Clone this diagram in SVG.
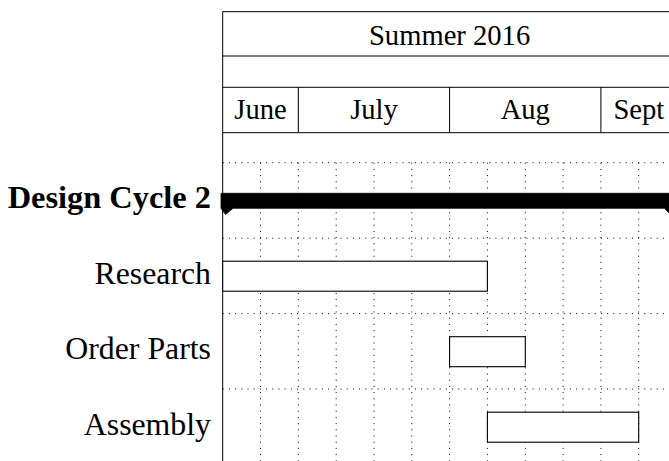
<svg xmlns="http://www.w3.org/2000/svg" width="669" height="461" viewBox="0 0 669 461">
<defs>
<style>
.hdr{fill:none;stroke:#000;stroke-width:1}
.grid{fill:none;stroke:#000;stroke-width:1;stroke-dasharray:1 5.2}
.bar{fill:#fff;stroke:#000;stroke-width:1.1}
.ht{font-family:"Liberation Serif","Times New Roman",serif;font-size:28.6px;fill:#000;text-anchor:middle}
.lbl{font-family:"Liberation Serif","Times New Roman",serif;font-size:31.8px;fill:#000;text-anchor:end}
.bold{font-weight:bold;font-size:32.4px}
</style>
</defs>
<rect x="0" y="0" width="669" height="461" fill="#fff"/>

<g id="grid">
<path class="grid" d="M222.7 162.7H676.5M222.7 238.2H676.5M222.7 313.6H676.5M222.7 389H676.5"/>
<path class="grid" d="M260.5 162.7V461M298.3 162.7V461M336.2 162.7V461M374 162.7V461M411.8 162.7V461M449.6 162.7V461M487.4 162.7V461M525.3 162.7V461M563.1 162.7V461M600.9 162.7V461M638.7 162.7V461"/>
</g>

<g id="header">
<path class="hdr" d="M676.5 11.7H222.7V461M222.7 56H676.5M222.7 87.3H676.5M222.7 132.7H676.5M298.3 87.3V132.7M449.6 87.3V132.7M600.9 87.3V132.7"/>
<text class="ht" x="449.6" y="44.5">Summer 2016</text>
<text class="ht" x="260.5" y="119.3">June</text>
<text class="ht" x="374" y="119.3">July</text>
<text class="ht" x="525.3" y="119.3">Aug</text>
<text class="ht" x="638.8" y="119.3">Sept</text>
</g>

<g id="design-cycle-2">
<path d="M221 193.3H676.5V208.3L670.5 214.5L664.5 208.3H233L225.5 214.5L221 208.3Z" fill="#000" stroke="#000" stroke-width="0.8" stroke-linejoin="miter"/>
<text class="lbl bold" x="211" y="207.5">Design Cycle 2</text>
</g>

<g id="research">
<rect class="bar" x="222.7" y="261.2" width="264.7" height="30"/>
<text class="lbl" x="211" y="283.5">Research</text>
</g>

<g id="order-parts">
<rect class="bar" x="449.6" y="336.7" width="75.7" height="30"/>
<text class="lbl" x="211" y="359.2">Order Parts</text>
</g>

<g id="assembly">
<rect class="bar" x="487.4" y="412.2" width="151.3" height="30"/>
<text class="lbl" x="211" y="434.7">Assembly</text>
</g>
</svg>
